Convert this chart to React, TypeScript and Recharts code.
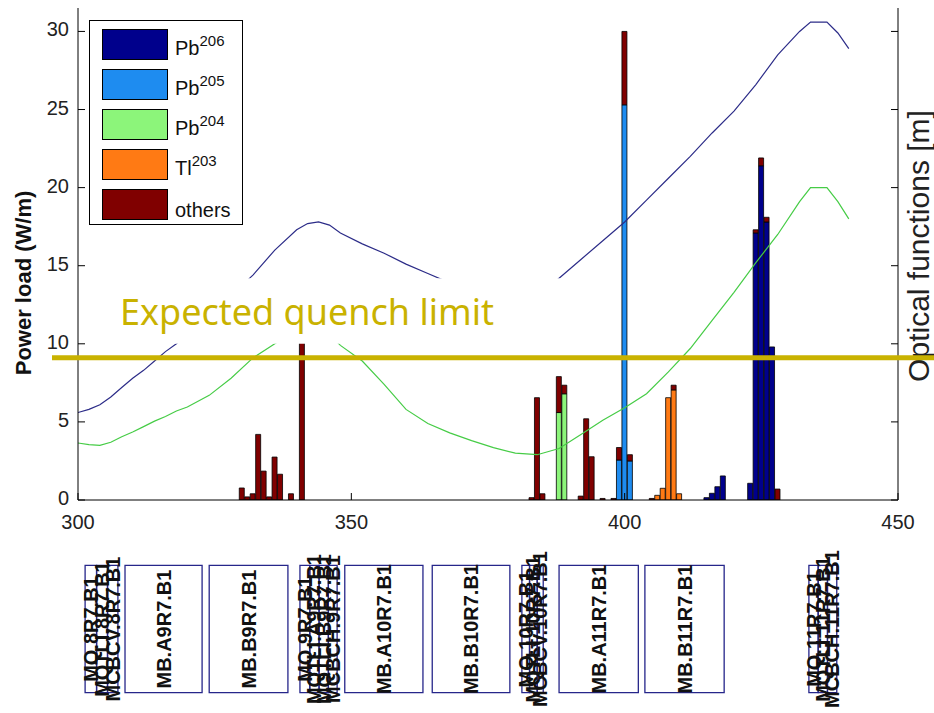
import React from 'react';
import {
  ComposedChart,
  Bar,
  Line,
  Scatter,
  XAxis,
  YAxis,
  ReferenceLine,
  ReferenceArea,
  Legend,
} from 'recharts';

const FONT = '"Liberation Sans", Arial, Helvetica, sans-serif';
const QUENCH_COLOR = '#C9B200';

// histogram bins along s (m), 1 m wide
const binPositions = [
  330, 331, 332, 333, 334, 335, 336, 337, 339, 341,
  383, 384, 385, 388, 389, 392, 393, 394, 396, 398,
  399, 400, 401, 405, 406, 407, 408, 409, 410, 415,
  416, 417, 418, 423, 424, 425, 426, 427, 428,
];
// power load per isotope (W/m), same order as binPositions
const pb206 = [
  0, 0, 0, 0, 0, 0, 0, 0, 0, 0,
  0, 0, 0, 0, 0, 0, 0, 0, 0, 0,
  0, 0, 0, 0, 0, 0, 0, 0, 0, 0.15,
  0.43, 0.85, 1.54, 1.07, 17.1, 21.4, 17.8, 9.8, 0,
];
const pb205 = [
  0, 0, 0, 0, 0, 0, 0, 0, 0, 0,
  0, 0, 0, 0, 0, 0, 0, 0, 0, 0,
  2.56, 25.3, 2.5, 0, 0, 0, 0, 0, 0, 0,
  0, 0, 0, 0, 0, 0, 0, 0, 0,
];
const pb204 = [
  0, 0, 0, 0, 0, 0, 0, 0, 0, 0,
  0, 0, 0, 5.6, 6.8, 0, 0, 0, 0, 0,
  0, 0, 0, 0, 0, 0, 0, 0, 0, 0,
  0, 0, 0, 0, 0, 0, 0, 0, 0,
];
const tl203 = [
  0, 0, 0, 0, 0, 0, 0, 0, 0, 0,
  0, 0, 0, 0, 0, 0, 0, 0, 0, 0,
  0, 0, 0, 0, 0.3, 0.75, 6.55, 7.05, 0.4, 0,
  0, 0, 0, 0, 0, 0, 0, 0, 0,
];
const others = [
  0.77, 0.2, 0.4, 4.2, 1.85, 0.2, 2.75, 1.65, 0.4, 11,
  0.15, 6.55, 0.4, 2.3, 0.55, 0.25, 5.2, 2.77, 0.1, 0.1,
  0.8, 4.7, 0.4, 0.1, 0, 0, 0, 0.3, 0, 0,
  0, 0, 0, 0, 0.2, 0.5, 0.3, 0, 0.7,
];

// optical functions (right axis)
const opticsS = [
  300, 302, 304, 306, 308, 310, 312, 314, 316, 318,
  320, 324, 328, 332, 336, 340, 342, 344, 346, 348,
  352, 356, 360, 364, 368, 372, 376, 380, 384, 388,
  392, 396, 400, 404, 408, 412, 416, 420, 424, 428,
  432, 434, 437, 439, 441,
];
const betaValues = [
  5.6, 5.8, 6.1, 6.6, 7.2, 7.8, 8.3, 8.9, 9.5, 10.0,
  10.6, 11.8, 13.1, 14.4, 16.0, 17.3, 17.7, 17.8, 17.6, 17.1,
  16.4, 15.8, 15.1, 14.5, 13.9, 13.3, 12.6, 12.2, 13.0, 14.2,
  15.4, 16.6, 17.8, 19.2, 20.6, 22.0, 23.5, 24.9, 26.6, 28.5,
  30.0, 30.6, 30.6, 29.9, 28.9,
];
const dispersionValues = [
  3.65, 3.55, 3.5, 3.7, 4.05, 4.35, 4.7, 5.05, 5.35, 5.7,
  5.95, 6.7, 7.8, 9.1, 10.0, 10.9, 11.2, 11.1, 10.6, 9.9,
  8.9, 7.4, 5.8, 4.9, 4.3, 3.8, 3.35, 3.0, 2.9, 3.3,
  4.2, 5.1, 5.9, 6.8, 8.2, 9.7, 11.5, 13.3, 15.2, 17.0,
  19.1, 20.0, 20.0, 19.1, 18.0,
];

const xTicks = [300, 350, 400, 450];
const yTicks = [0, 5, 10, 15, 20, 25, 30];
const quenchLimit = 9.1;

// magnet layout strip
const elementNames = [
  'MQ.8R7.B1', 'MQTLI.8R7.B1', 'MCBCV.8R7.B1', 'MB.A9R7.B1', 'MB.B9R7.B1',
  'MQ.9R7.B1', 'MQTLI.A9R7.B1', 'MQTLI.B9R7.B1', 'MCBCH.9R7.B1', 'MB.A10R7.B1',
  'MB.B10R7.B1', 'MQ.10R7.B1', 'MQTLI.10R7.B1', 'MCBCV.10R7.B1', 'MB.A11R7.B1',
  'MB.B11R7.B1', 'MQ.11R7.B1', 'MQTLI.11R7.B1', 'MCBCH.11R7.B1',
];
const elementStart = [
  301.3, 303.4, 305.4, 308.6, 324.0, 340.6, 342.4, 344.1, 345.8, 348.8,
  364.8, 381.2, 382.6, 384.0, 388.0, 403.7, 433.7, 435.4, 437.1,
];
const elementEnd = [
  303.4, 305.4, 307.3, 322.7, 338.4, 342.4, 344.1, 345.8, 347.4, 363.1,
  379.0, 382.6, 384.0, 385.1, 402.5, 418.2, 435.4, 437.1, 438.8,
];

const seriesMeta = [
  { key: 'pb206', base: 'Pb', sup: '206', color: '#00008C' },
  { key: 'pb205', base: 'Pb', sup: '205', color: '#1E8CF0' },
  { key: 'pb204', base: 'Pb', sup: '204', color: '#8CF57A' },
  { key: 'tl203', base: 'Tl', sup: '203', color: '#FF7A14' },
  { key: 'others', base: 'others', sup: '', color: '#800000' },
];

const binRows = binPositions.map((s, i) => ({
  s,
  pb206: pb206[i],
  pb205: pb205[i],
  pb204: pb204[i],
  tl203: tl203[i],
  others: others[i],
}));
const betaRows = opticsS.map((s, i) => ({ s, beta: betaValues[i] }));
const dispersionRows = opticsS.map((s, i) => ({ s, disp: dispersionValues[i] }));
const elementLabels = elementNames.map((name, i) => ({
  s: (elementStart[i] + elementEnd[i]) / 2,
  y: 0.5,
  name,
}));

const tickText = { fontSize: 20, fill: '#222', fontFamily: FONT };
const TICK_LEN = 7;

// matlab-style ticks: marks point into the plot
const BottomTick = (p: any) => (
  <g>
    <line x1={p.x} x2={p.x} y1={p.y} y2={p.y - TICK_LEN} stroke="#000" />
    <text x={p.x} y={p.y + 29} textAnchor="middle" {...tickText}>
      {p.payload.value}
    </text>
  </g>
);
const TopTick = (p: any) => (
  <line x1={p.x} x2={p.x} y1={p.y} y2={p.y + TICK_LEN} stroke="#000" />
);
const LeftTick = (p: any) => (
  <g>
    <line x1={p.x} x2={p.x + TICK_LEN} y1={p.y} y2={p.y} stroke="#000" />
    <text x={p.x - 9} y={p.y + 5} textAnchor="end" {...tickText}>
      {p.payload.value}
    </text>
  </g>
);
const RightTick = (p: any) => (
  <line x1={p.x} x2={p.x - TICK_LEN} y1={p.y} y2={p.y} stroke="#000" />
);

const renderLegend = () => (
  <div
    style={{
      width: 154,
      height: 205,
      border: '1px solid #000',
      background: '#fff',
      boxSizing: 'border-box',
      padding: '8px 0 0 12px',
      fontFamily: FONT,
      color: '#111',
    }}
  >
    {seriesMeta.map((m) => (
      <div key={m.key} style={{ display: 'flex', alignItems: 'flex-end', height: 31, marginBottom: 9 }}>
        <div
          style={{ width: 66, height: 31, background: m.color, border: '1px solid #000', boxSizing: 'border-box' }}
        />
        <span style={{ marginLeft: 7, fontSize: 20, lineHeight: '20px' }}>
          {m.base}
          {m.sup && (
            <span style={{ fontSize: 15, position: 'relative', top: -9 }}>{m.sup}</span>
          )}
        </span>
      </div>
    ))}
  </div>
);

const renderPowerLabel = (props: any) => {
  const vb = props.viewBox || { x: 0, y: 8, width: 78, height: 492 };
  const x = vb.x + 31;
  const y = vb.y + vb.height / 2 + 29;
  return (
    <text
      x={x}
      y={y}
      transform={`rotate(-90 ${x} ${y})`}
      textAnchor="middle"
      fontSize={22}
      fontWeight="bold"
      fill="#111"
      fontFamily={FONT}
    >
      Power load (W/m)
    </text>
  );
};

const renderOpticsLabel = (props: any) => {
  const vb = props.viewBox || { x: 898, y: 8, width: 36, height: 492 };
  const x = vb.x + 31;
  const y = vb.y + vb.height / 2 - 8;
  return (
    <text
      x={x}
      y={y}
      transform={`rotate(-90 ${x} ${y})`}
      textAnchor="middle"
      fontSize={30}
      fill="#222"
      fontFamily={FONT}
    >
      Optical functions [m]
    </text>
  );
};

const renderQuenchText = (props: any) => {
  const vb = props.viewBox;
  if (!vb) return null;
  return (
    <text x={vb.x + 36} y={vb.y + 47} fontSize={36} fill={QUENCH_COLOR} fontFamily='"Noto Sans", sans-serif'>
      Expected quench limit
    </text>
  );
};

const renderElementLabel = (props: any) => {
  const { cx, cy, payload } = props;
  return (
    <text
      x={cx}
      y={cy}
      transform={`rotate(-90 ${cx} ${cy})`}
      textAnchor="middle"
      dominantBaseline="central"
      fontSize={20}
      fontWeight="bold"
      fill="#111"
      fontFamily={FONT}
    >
      {payload.name}
    </text>
  );
};

export default function App() {
  return (
    <div style={{ position: 'absolute', left: 0, top: 0, width: 934, height: 713, background: '#fff', fontFamily: FONT }}>
      <ComposedChart width={934} height={540} data={binRows} margin={{ top: 8, right: 0, bottom: 0, left: 0 }}>
        <XAxis
          type="number"
          dataKey="s"
          domain={[300, 450]}
          ticks={xTicks}
          allowDataOverflow
          height={40}
          tickSize={0}
          tickMargin={0}
          tickLine={false}
          stroke="#000"
          tick={BottomTick}
        />
        <XAxis
          xAxisId="top"
          orientation="top"
          type="number"
          dataKey="s"
          domain={[300, 450]}
          ticks={xTicks}
          allowDataOverflow
          height={0}
          tickSize={0}
          tickMargin={0}
          tickLine={false}
          stroke="#000"
          tick={TopTick}
        />
        <YAxis
          type="number"
          domain={[0, 31.5]}
          ticks={yTicks}
          allowDataOverflow
          width={78}
          tickSize={0}
          tickMargin={0}
          tickLine={false}
          stroke="#000"
          tick={LeftTick}
          label={renderPowerLabel}
        />
        <YAxis
          yAxisId="right"
          orientation="right"
          type="number"
          domain={[0, 31.5]}
          ticks={yTicks}
          allowDataOverflow
          width={36}
          tickSize={0}
          tickMargin={0}
          tickLine={false}
          stroke="#000"
          tick={RightTick}
          label={renderOpticsLabel}
        />
        {seriesMeta.map((m) => (
          <Bar
            key={m.key}
            dataKey={m.key}
            stackId="load"
            fill={m.color}
            stroke="#000"
            strokeWidth={0.8}
            barSize={5}
            isAnimationActive={false}
          />
        ))}
        <Line
          data={betaRows}
          dataKey="beta"
          yAxisId="right"
          type="linear"
          stroke="#2c2c88"
          strokeWidth={1.2}
          dot={false}
          isAnimationActive={false}
        />
        <Line
          data={dispersionRows}
          dataKey="disp"
          yAxisId="right"
          type="linear"
          stroke="#46cc46"
          strokeWidth={1.2}
          dot={false}
          isAnimationActive={false}
        />
        <ReferenceLine
          y={quenchLimit}
          stroke={QUENCH_COLOR}
          strokeWidth={5}
          zIndex={1700}
          shape={(p: any) => (
            <line x1={p.x1 - 26} x2={934} y1={p.y1} y2={p.y2} stroke={QUENCH_COLOR} strokeWidth={5} />
          )}
        />
        <ReferenceArea
          x1={301.1}
          x2={389.1}
          y1={10.0}
          y2={14.2}
          fill="#fff"
          fillOpacity={1}
          stroke="none"
          zIndex={1800}
          label={renderQuenchText}
        />
        <Legend
          layout="horizontal"
          verticalAlign="middle"
          align="center"
          width={154}
          height={205}
          wrapperStyle={{ top: 20, left: 89 }}
          content={renderLegend}
        />
      </ComposedChart>
      <div style={{ position: 'absolute', left: 0, top: 540 }}>
        <ComposedChart width={934} height={173} margin={{ top: 0, right: 36, bottom: 0, left: 78 }}>
          <XAxis type="number" dataKey="s" domain={[300, 450]} allowDataOverflow hide />
          <YAxis type="number" dataKey="y" domain={[-0.16, 1.2]} allowDataOverflow hide />
          <Scatter data={elementLabels} dataKey="y" shape={renderElementLabel} isAnimationActive={false} />
          {elementNames.map((name, i) => (
            <ReferenceArea
              key={name}
              x1={elementStart[i]}
              x2={elementEnd[i]}
              y1={0}
              y2={1}
              fill="none"
              fillOpacity={0}
              stroke="#26268a"
              strokeWidth={1.3}
              ifOverflow="visible"
            />
          ))}
        </ComposedChart>
      </div>
    </div>
  );
}
